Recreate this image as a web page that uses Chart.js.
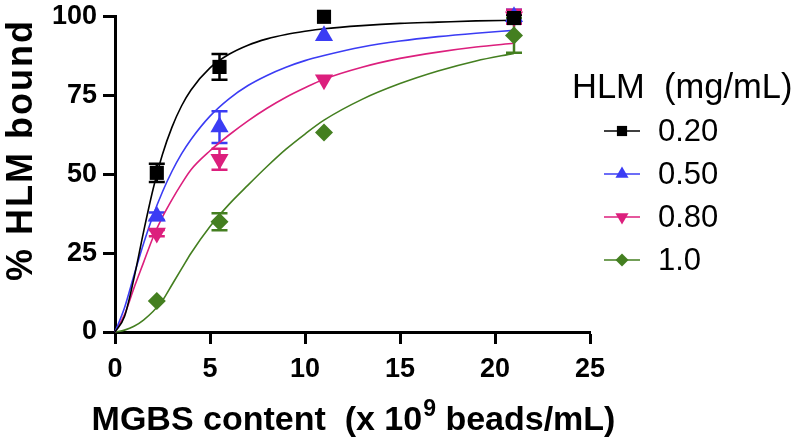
<!DOCTYPE html>
<html><head><meta charset="utf-8">
<script src="https://cdn.jsdelivr.net/npm/chart.js@4.4.0/dist/chart.umd.min.js"></script>
<style>html,body{margin:0;padding:0;background:#fff}</style>
</head><body>
<canvas id="c" width="793" height="443"></canvas>
<script>
// ---- data ----
const xTitleParts = ['MGBS content  (x 10', '9', ' beads/mL)'];
const yTitle = '% HLM bound';
const legendTitle = 'HLM  (mg/mL)';
const seriesNames = ['0.20', '0.50', '0.80', '1.0'];
const xTicks = [0, 5, 10, 15, 20, 25];
const yTicks = [0, 25, 50, 75, 100];

// measured points (x 10^9 beads/mL)
const beads = [2.2, 5.5, 11, 21];
const mean020 = [50.5, 84.1, 100, 99.6];
const err020  = [2.9, 4.1, 0, 1.0];
const mean050 = [36.7, 65.0, 94.0, 100];
const err050  = [1.2, 5.0, 0, 2.2];
const mean080 = [31.4, 54.8, 80.0, 100];
const err080  = [1.0, 3.3, 0, 2.2];
const mean100 = [9.8, 35.0, 63.3, 94.1];
const err100  = [0, 2.7, 0, 5.5];

// fitted curves
const curveX = [0, 0.5, 1, 1.5, 2, 2.5, 3, 3.5, 4, 5, 6, 7, 8, 9, 10, 11, 13, 15, 17, 19, 21];
const fit020 = [0, 4.9, 17.1, 31.7, 45.2, 56.4, 65.0, 71.7, 76.8, 83.8, 88.1, 91.0, 93.0, 94.4, 95.4, 96.2, 97.2, 97.9, 98.3, 98.7, 98.9];
const fit050 = [0, 7.7, 18.0, 28.0, 36.9, 44.5, 51.0, 56.5, 61.1, 68.5, 74.0, 78.2, 81.4, 84.0, 86.1, 87.7, 90.4, 92.3, 93.7, 94.8, 95.7];
const fit080 = [0, 5.5, 14.0, 22.0, 30.0, 36.5, 42.0, 47.0, 51.5, 57.5, 62.5, 67.0, 71.0, 74.5, 77.5, 80.2, 84.0, 86.8, 88.8, 90.4, 91.6];
const fit100 = [0, 0.6, 1.8, 3.8, 6.5, 10.0, 15.0, 20.0, 25.0, 33.5, 40.5, 46.6, 52.5, 58.0, 62.8, 67.2, 73.8, 78.8, 82.8, 86.0, 88.4];

const colors = ['#000000', '#3b3cf4', '#dc1f7d', '#447f20'];
const styles = [
  {pointStyle: 'rect', radius: 10, rotation: 0},
  {pointStyle: 'triangle', radius: 10.5, rotation: 0},
  {pointStyle: 'triangle', radius: 10.5, rotation: 180},
  {pointStyle: 'rectRot', radius: 9, rotation: 0}
];
const means = [mean020, mean050, mean080, mean100];
const errs = [err020, err050, err080, err100];
const fits = [fit020, fit050, fit080, fit100];

const FONT = "Arial, 'Liberation Sans', Helvetica, sans-serif";

const datasets = [];
for (let i = 0; i < 4; i++) {
  datasets.push({
    label: seriesNames[i],
    data: beads.map((x, k) => ({x: x, y: means[i][k]})),
    errors: errs[i],
    showLine: false,
    pointStyle: styles[i].pointStyle,
    pointRadius: styles[i].radius,
    pointRotation: styles[i].rotation,
    pointBackgroundColor: colors[i],
    pointBorderColor: colors[i],
    pointBorderWidth: 0,
    backgroundColor: colors[i],
    borderColor: colors[i],
    clip: false,
    order: 1 + i * 0.1,
    isPoints: true
  });
}
for (let i = 0; i < 4; i++) {
  datasets.push({
    label: seriesNames[i] + ' fit',
    data: curveX.map((x, k) => ({x: x, y: fits[i][k]})),
    showLine: true,
    borderColor: colors[i],
    borderWidth: 1.6,
    pointRadius: 0,
    cubicInterpolationMode: 'monotone',
    fill: false,
    clip: false,
    order: 5
  });
}

const errorBarPlugin = {
  id: 'errorBars',
  beforeDatasetsDraw(chart) {
    const ctx = chart.ctx, xs = chart.scales.x, ys = chart.scales.y;
    ctx.save();
    chart.data.datasets.forEach((ds) => {
      if (!ds.isPoints) return;
      ctx.strokeStyle = ds.borderColor;
      ctx.lineWidth = 2.5;
      ds.data.forEach((p, k) => {
        const e = ds.errors[k];
        if (!e) return;
        const px = xs.getPixelForValue(p.x);
        const y1 = ys.getPixelForValue(p.y + e), y2 = ys.getPixelForValue(p.y - e);
        ctx.beginPath();
        ctx.moveTo(px, y1); ctx.lineTo(px, y2);
        ctx.moveTo(px - 8, y1); ctx.lineTo(px + 8, y1);
        ctx.moveTo(px - 8, y2); ctx.lineTo(px + 8, y2);
        ctx.stroke();
      });
    });
    ctx.restore();
  }
};

// axis titles (drawn without Chart.js' maxWidth squeeze, with a real superscript)
const titlesPlugin = {
  id: 'axisTitles',
  afterDraw(chart) {
    const ctx = chart.ctx;
    ctx.save();
    ctx.fillStyle = '#000';
    ctx.textBaseline = 'alphabetic';
    ctx.textAlign = 'left';
    const big = 'bold 34px ' + FONT, sup = 'bold 23px ' + FONT;
    ctx.font = big; const w0 = ctx.measureText(xTitleParts[0]).width;
    const w2 = ctx.measureText(xTitleParts[2]).width;
    ctx.font = sup; const w1 = ctx.measureText(xTitleParts[1]).width;
    let x = 353 - (w0 + w1 + w2) / 2;
    const base = 430;
    ctx.font = big; ctx.fillText(xTitleParts[0], x, base); x += w0;
    ctx.font = sup; ctx.fillText(xTitleParts[1], x + 1, base - 14); x += w1 + 1;
    ctx.font = big; ctx.fillText(xTitleParts[2], x, base);

    ctx.translate(32, 150);
    ctx.rotate(-Math.PI / 2);
    ctx.textAlign = 'center';
    ctx.font = 'bold 36px ' + FONT;
    try { ctx.letterSpacing = '2px'; } catch (e) {}
    ctx.fillText(yTitle, 0, 0);
    ctx.restore();
  }
};

const legendPlugin = {
  id: 'sideLegend',
  afterDraw(chart) {
    const ctx = chart.ctx;
    ctx.save();
    ctx.fillStyle = '#000';
    ctx.textBaseline = 'middle';
    ctx.textAlign = 'left';
    ctx.font = '34.5px ' + FONT;
    ctx.fillText(legendTitle, 572, 88);
    const y0 = 131, dy = 43;
    for (let i = 0; i < 4; i++) {
      const y = y0 + i * dy;
      ctx.strokeStyle = colors[i];
      ctx.fillStyle = colors[i];
      ctx.lineWidth = 1.6;
      ctx.beginPath(); ctx.moveTo(604, y); ctx.lineTo(640, y); ctx.stroke();
      Chart.helpers.drawPoint(ctx, {pointStyle: styles[i].pointStyle, radius: styles[i].radius * 0.72,
        rotation: styles[i].rotation, borderWidth: 0}, 622, y);
      ctx.fillStyle = '#000';
      ctx.font = '31px ' + FONT;
      ctx.fillText(seriesNames[i], 658, y + 1);
    }
    ctx.restore();
  }
};

new Chart(document.getElementById('c'), {
  type: 'scatter',
  data: {datasets: datasets},
  plugins: [errorBarPlugin, titlesPlugin, legendPlugin],
  options: {
    responsive: false,
    animation: false,
    events: [],
    layout: {padding: {top: 14, right: 203, left: 0, bottom: 0}},
    plugins: {legend: {display: false}, tooltip: {enabled: false}},
    scales: {
      x: {
        type: 'linear', min: 0, max: 25,
        afterBuildTicks: (s) => { s.ticks = xTicks.map(v => ({value: v})); },
        afterFit: (s) => { s.height = 111; },
        grid: {display: true, drawOnChartArea: false, drawTicks: true, tickLength: 12, tickWidth: 3, tickColor: '#000'},
        border: {display: true, width: 3, color: '#000'},
        ticks: {color: '#000', padding: 12, maxRotation: 0, font: {family: FONT, size: 27, weight: 'bold', lineHeight: 1}},
        title: {display: false}
      },
      y: {
        type: 'linear', min: 0, max: 100,
        afterBuildTicks: (s) => { s.ticks = yTicks.map(v => ({value: v})); },
        afterFit: (s) => { s.width = 115; },
        grid: {display: true, drawOnChartArea: false, drawTicks: true, tickLength: 12, tickWidth: 3, tickColor: '#000'},
        border: {display: true, width: 3, color: '#000'},
        ticks: {color: '#000', padding: 6, font: {family: FONT, size: 27, weight: 'bold', lineHeight: 0.8}},
        title: {display: false}
      }
    }
  }
});
</script>
</body></html>
